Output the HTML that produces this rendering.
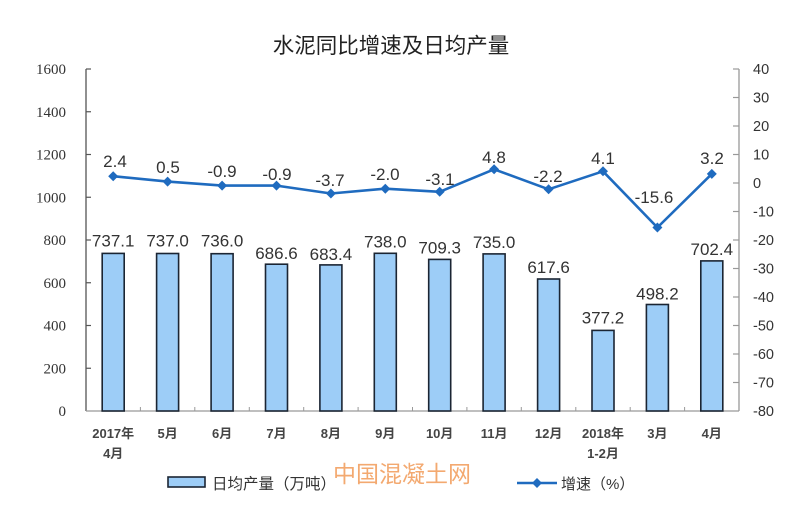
<!DOCTYPE html>
<html>
<head>
<meta charset="utf-8">
<style>
html,body{margin:0;padding:0;background:#fff;}
svg{display:block;}
</style>
</head>
<body>
<svg width="800" height="516" viewBox="0 0 800 516" xmlns="http://www.w3.org/2000/svg">
<rect width="800" height="516" fill="#fff"/>
<!-- title -->
<text x="391" y="53" text-anchor="middle" font-family="'Liberation Sans','Noto Sans CJK SC',sans-serif" font-size="21.5" fill="#222">水泥同比增速及日均产量</text>

<!-- axes -->
<line x1="86" y1="69" x2="86" y2="411" stroke="#555" stroke-width="1.3"/>
<line x1="739" y1="69" x2="739" y2="411" stroke="#999" stroke-width="1.3"/>
<line x1="86" y1="411" x2="739" y2="411" stroke="#999" stroke-width="1.3"/>

<!-- left ticks -->
<g stroke="#555" stroke-width="1.2">
<line x1="86" y1="69" x2="91" y2="69"/>
<line x1="86" y1="111.75" x2="91" y2="111.75"/>
<line x1="86" y1="154.5" x2="91" y2="154.5"/>
<line x1="86" y1="197.25" x2="91" y2="197.25"/>
<line x1="86" y1="240" x2="91" y2="240"/>
<line x1="86" y1="282.75" x2="91" y2="282.75"/>
<line x1="86" y1="325.5" x2="91" y2="325.5"/>
<line x1="86" y1="368.25" x2="91" y2="368.25"/>
</g>
<!-- right ticks -->
<g stroke="#999" stroke-width="1.2">
<line x1="733" y1="69" x2="739" y2="69"/>
<line x1="733" y1="97.5" x2="739" y2="97.5"/>
<line x1="733" y1="126" x2="739" y2="126"/>
<line x1="733" y1="154.5" x2="739" y2="154.5"/>
<line x1="733" y1="183" x2="739" y2="183"/>
<line x1="733" y1="211.5" x2="739" y2="211.5"/>
<line x1="733" y1="240" x2="739" y2="240"/>
<line x1="733" y1="268.5" x2="739" y2="268.5"/>
<line x1="733" y1="297" x2="739" y2="297"/>
<line x1="733" y1="325.5" x2="739" y2="325.5"/>
<line x1="733" y1="354" x2="739" y2="354"/>
<line x1="733" y1="382.5" x2="739" y2="382.5"/>
</g>
<!-- category ticks -->
<g stroke="#999" stroke-width="1">
<line x1="140.4" y1="411" x2="140.4" y2="407"/>
<line x1="194.8" y1="411" x2="194.8" y2="407"/>
<line x1="249.3" y1="411" x2="249.3" y2="407"/>
<line x1="303.7" y1="411" x2="303.7" y2="407"/>
<line x1="358.1" y1="411" x2="358.1" y2="407"/>
<line x1="412.5" y1="411" x2="412.5" y2="407"/>
<line x1="466.9" y1="411" x2="466.9" y2="407"/>
<line x1="521.3" y1="411" x2="521.3" y2="407"/>
<line x1="575.8" y1="411" x2="575.8" y2="407"/>
<line x1="630.2" y1="411" x2="630.2" y2="407"/>
<line x1="684.6" y1="411" x2="684.6" y2="407"/>
</g>

<!-- left labels -->
<g font-family="'Liberation Serif',serif" font-size="15" fill="#333" text-anchor="end">
<text x="66" y="74">1600</text>
<text x="66" y="116.75">1400</text>
<text x="66" y="159.5">1200</text>
<text x="66" y="202.25">1000</text>
<text x="66" y="245">800</text>
<text x="66" y="287.75">600</text>
<text x="66" y="330.5">400</text>
<text x="66" y="373.25">200</text>
<text x="66" y="416">0</text>
</g>
<!-- right labels -->
<g font-family="'Liberation Sans',sans-serif" font-size="14.5" fill="#333" text-anchor="start">
<text x="753" y="74">40</text>
<text x="753" y="102.5">30</text>
<text x="753" y="131">20</text>
<text x="753" y="159.5">10</text>
<text x="753" y="188">0</text>
<text x="753" y="216.5">-10</text>
<text x="753" y="245">-20</text>
<text x="753" y="273.5">-30</text>
<text x="753" y="302">-40</text>
<text x="753" y="330.5">-50</text>
<text x="753" y="359">-60</text>
<text x="753" y="387.5">-70</text>
<text x="753" y="416">-80</text>
</g>

<!-- bars -->
<g fill="#9dcdf7" stroke="#1b2533" stroke-width="1.6">
<rect x="102.2" y="253.4" width="22" height="157.6"/>
<rect x="156.6" y="253.5" width="22" height="157.5"/>
<rect x="211.1" y="253.7" width="22" height="157.3"/>
<rect x="265.5" y="264.2" width="22" height="146.8"/>
<rect x="319.9" y="264.9" width="22" height="146.1"/>
<rect x="374.3" y="253.3" width="22" height="157.7"/>
<rect x="428.7" y="259.4" width="22" height="151.6"/>
<rect x="483.1" y="253.9" width="22" height="157.1"/>
<rect x="537.6" y="279.0" width="22" height="132.0"/>
<rect x="592.0" y="330.4" width="22" height="80.6"/>
<rect x="646.4" y="304.5" width="22" height="106.5"/>
<rect x="700.8" y="260.9" width="22" height="150.1"/>
</g>

<!-- bar labels -->
<g font-family="'Liberation Sans',sans-serif" font-size="17" fill="#333" text-anchor="middle">
<text x="113.2" y="246.4">737.1</text>
<text x="167.6" y="246.5">737.0</text>
<text x="222.1" y="246.7">736.0</text>
<text x="276.5" y="259.2">686.6</text>
<text x="330.9" y="259.9">683.4</text>
<text x="385.3" y="247.3">738.0</text>
<text x="439.7" y="253.4">709.3</text>
<text x="494.1" y="247.9">735.0</text>
<text x="548.6" y="273.0">617.6</text>
<text x="603.0" y="323.4">377.2</text>
<text x="657.4" y="299.5">498.2</text>
<text x="711.8" y="254.9">702.4</text>
</g>

<!-- line -->
<polyline fill="none" stroke="#1f6bbf" stroke-width="2.6" stroke-linejoin="round" points="113.2,176.2 167.6,181.6 222.1,185.6 276.5,185.6 330.9,193.5 385.3,188.7 439.7,191.8 494.1,169.3 548.6,189.3 603.0,171.3 657.4,227.5 711.8,173.9"/>
<g fill="#1f6bbf">
<path d="M113.2 171.2 L118.2 176.2 L113.2 181.2 L108.2 176.2Z"/>
<path d="M167.6 176.6 L172.6 181.6 L167.6 186.6 L162.6 181.6Z"/>
<path d="M222.1 180.6 L227.1 185.6 L222.1 190.6 L217.1 185.6Z"/>
<path d="M276.5 180.6 L281.5 185.6 L276.5 190.6 L271.5 185.6Z"/>
<path d="M330.9 188.5 L335.9 193.5 L330.9 198.5 L325.9 193.5Z"/>
<path d="M385.3 183.7 L390.3 188.7 L385.3 193.7 L380.3 188.7Z"/>
<path d="M439.7 186.8 L444.7 191.8 L439.7 196.8 L434.7 191.8Z"/>
<path d="M494.1 164.3 L499.1 169.3 L494.1 174.3 L489.1 169.3Z"/>
<path d="M548.6 184.3 L553.6 189.3 L548.6 194.3 L543.6 189.3Z"/>
<path d="M603.0 166.3 L608.0 171.3 L603.0 176.3 L598.0 171.3Z"/>
<path d="M657.4 222.5 L662.4 227.5 L657.4 232.5 L652.4 227.5Z"/>
<path d="M711.8 168.9 L716.8 173.9 L711.8 178.9 L706.8 173.9Z"/>
</g>
<!-- line labels -->
<g font-family="'Liberation Sans',sans-serif" font-size="17" fill="#333" text-anchor="middle">
<text x="115" y="167">2.4</text>
<text x="168" y="173">0.5</text>
<text x="222" y="177">-0.9</text>
<text x="277" y="180">-0.9</text>
<text x="330" y="186">-3.7</text>
<text x="385" y="180">-2.0</text>
<text x="440" y="185">-3.1</text>
<text x="494" y="163">4.8</text>
<text x="548" y="182">-2.2</text>
<text x="603" y="164">4.1</text>
<text x="654" y="203">-15.6</text>
<text x="712" y="164">3.2</text>
</g>

<!-- category labels -->
<g font-family="'Liberation Sans','Noto Sans CJK SC',sans-serif" font-size="13" fill="#444" text-anchor="middle" font-weight="bold">
<text x="113.2" y="438">2017年</text>
<text x="113.2" y="458">4月</text>
<text x="167.6" y="438">5月</text>
<text x="222.1" y="438">6月</text>
<text x="276.5" y="438">7月</text>
<text x="330.9" y="438">8月</text>
<text x="385.3" y="438">9月</text>
<text x="439.7" y="438">10月</text>
<text x="494.1" y="438">11月</text>
<text x="548.6" y="438">12月</text>
<text x="603.0" y="438">2018年</text>
<text x="603.0" y="458">1-2月</text>
<text x="657.4" y="438">3月</text>
<text x="711.8" y="438">4月</text>
</g>

<!-- legend -->
<rect x="168" y="477" width="37" height="10" fill="#9dcdf7" stroke="#1b2533" stroke-width="1.6"/>
<text x="212" y="489" font-family="'Liberation Sans','Noto Sans CJK SC',sans-serif" font-size="15.5" fill="#333">日均产量（万吨）</text>
<line x1="517" y1="483" x2="557" y2="483" stroke="#1f6bbf" stroke-width="2.6"/>
<path d="M537 478 L542 483 L537 488 L532 483Z" fill="#1f6bbf"/>
<text x="561" y="489" font-family="'Liberation Sans','Noto Sans CJK SC',sans-serif" font-size="15" fill="#333">增速（%）</text>

<!-- watermark -->
<text x="333" y="482" font-family="'Noto Sans CJK SC',sans-serif" font-size="23" fill="#f2a060" fill-opacity="0.9">中国混凝土网</text>
</svg>
</body>
</html>
